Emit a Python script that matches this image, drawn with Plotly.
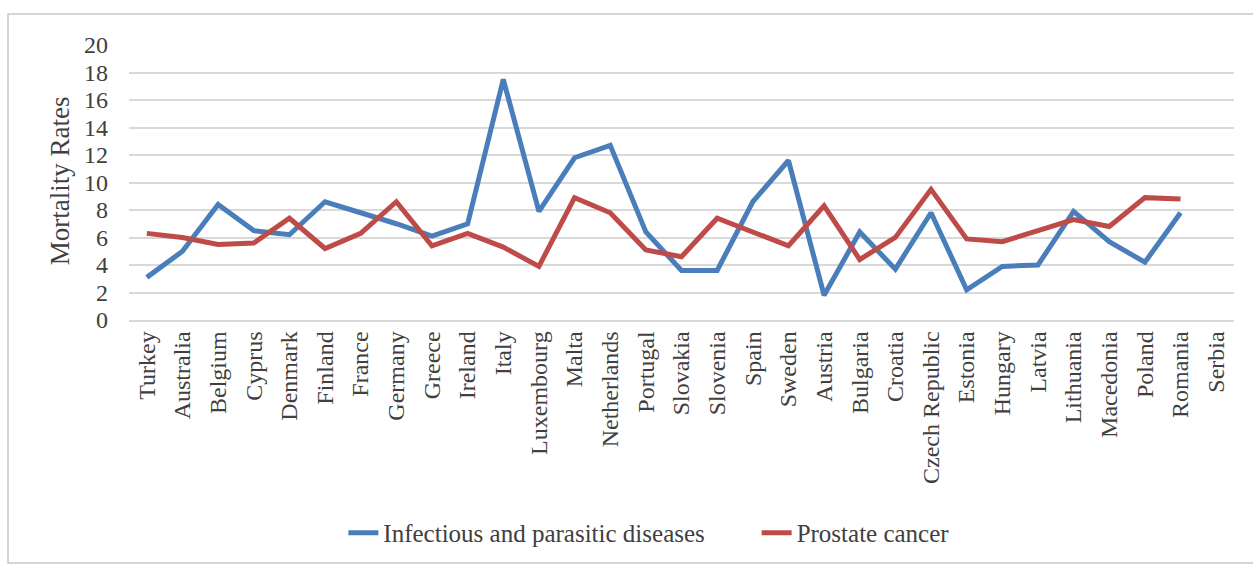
import plotly.graph_objects as go

countries = [
    "Turkey", "Australia", "Belgium", "Cyprus", "Denmark", "Finland", "France",
    "Germany", "Greece", "Ireland", "Italy", "Luxembourg", "Malta", "Netherlands",
    "Portugal", "Slovakia", "Slovenia", "Spain", "Sweden", "Austria", "Bulgaria",
    "Croatia", "Czech Republic", "Estonia", "Hungary", "Latvia", "Lithuania",
    "Macedonia", "Poland", "Romania", "Serbia",
]

infectious = [
    3.1, 5.0, 8.4, 6.5, 6.2, 8.6, 7.8, 7.0, 6.1, 7.0, 17.5, 7.9, 11.8, 12.7,
    6.4, 3.6, 3.6, 8.6, 11.6, 1.8, 6.4, 3.7, 7.8, 2.2, 3.9, 4.0, 7.9,
    5.7, 4.2, 7.8, None,
]

prostate = [
    6.3, 6.0, 5.5, 5.6, 7.4, 5.2, 6.3, 8.6, 5.4, 6.3, 5.3, 3.9, 8.9, 7.8,
    5.1, 4.6, 7.4, 6.4, 5.4, 8.3, 4.4, 6.0, 9.5, 5.9, 5.7, 6.5, 7.3,
    6.8, 8.9, 8.8, None,
]

y_ticks = list(range(0, 21, 2))

FONT = "Liberation Serif, Times New Roman, serif"
TEXT = "#404040"
GRID = "#d9d9d9"

fig = go.Figure()
fig.add_trace(go.Scatter(
    x=countries, y=infectious, mode="lines",
    name="Infectious and parasitic diseases",
    line=dict(color="#4a7ebb", width=5),
    legend="legend",
))
fig.add_trace(go.Scatter(
    x=countries, y=prostate, mode="lines",
    name="Prostate cancer",
    line=dict(color="#be4b48", width=5),
    legend="legend2",
))

legend_common = dict(
    orientation="h", y=-0.7745, yanchor="middle", xanchor="left",
    font=dict(family=FONT, size=25, color=TEXT),
    bgcolor="rgba(0,0,0,0)",
)

fig.update_layout(
    width=1253, height=565,
    margin=dict(l=129, r=19, t=45, b=245, autoexpand=False),
    paper_bgcolor="white", plot_bgcolor="white",
    font=dict(family=FONT, color=TEXT, size=24),
    showlegend=True,
    legend=dict(x=0.194, **legend_common),
    legend2=dict(x=0.568, **legend_common),
    shapes=[dict(
        type="rect", xref="paper", yref="paper",
        x0=-0.1095, x1=1.05, y0=-0.8836, y1=1.1127,
        line=dict(color="#c8c8c8", width=1.5), fillcolor="rgba(0,0,0,0)",
        layer="below",
    )],
    annotations=[dict(
        text="Mortality Rates", textangle=-90, showarrow=False,
        xref="paper", yref="paper", x=-0.0624, y=0.505,
        xanchor="center", yanchor="middle",
        font=dict(family=FONT, size=27, color=TEXT),
    )],
)

fig.update_xaxes(
    type="category", range=[-0.5, len(countries) - 0.5],
    tickangle=-90, showgrid=False, ticks="",
    showline=True, linecolor=GRID, linewidth=1.5,
    tickfont=dict(family=FONT, size=24, color=TEXT),
)
fig.update_yaxes(
    range=[0, 20], tickvals=y_ticks, ticktext=[str(v) for v in y_ticks],
    showgrid=True, gridcolor=GRID, gridwidth=1.5,
    zeroline=False, showline=False, ticks="",
    ticklabelstandoff=20,
    tickfont=dict(family=FONT, size=24, color=TEXT),
)

fig.write_html("out.html")
